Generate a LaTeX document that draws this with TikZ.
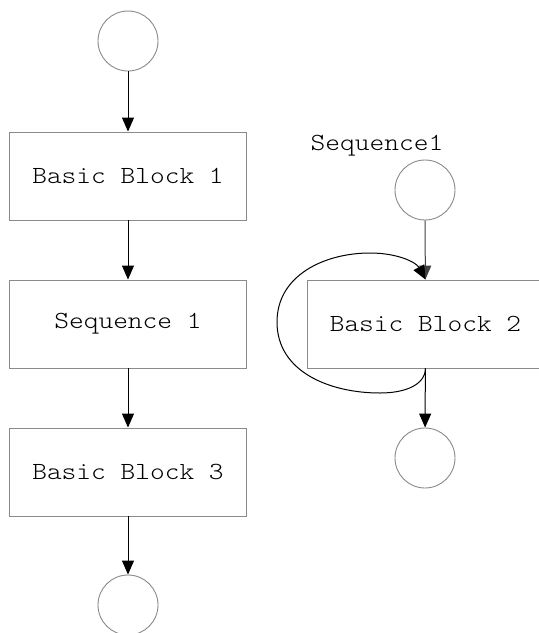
\documentclass[tikz,border=0pt]{standalone}
\usepackage{fontspec}
\setmonofont[FakeStretch=1.14]{Latin Modern Mono Light}
\usetikzlibrary{arrows.meta}
\definecolor{edgegray}{HTML}{8A8A8A}
\tikzset{
  blockbox/.style={draw=edgegray, line width=0.9pt, minimum width=237pt, minimum height=88pt,
    inner sep=0pt, font=\ttfamily\fontsize{24.6}{28}\selectfont},
  terminal/.style={circle, draw=edgegray, line width=0.9pt, minimum size=60pt, inner sep=0pt},
  flow/.style={line width=1pt, -{Triangle[length=14pt,width=12pt]}},
  caption/.style={font=\ttfamily\fontsize{24.6}{28}\selectfont, inner sep=0pt}
}
\begin{document}
\begin{tikzpicture}[x=1pt,y=-1pt]
\clip (0,0) rectangle (539,633);
\fill[white] (0,0) rectangle (539,633);

% main chain
\node[terminal] (start) at (128,41) {};
\node[blockbox] (bb1) at (128,176) {Basic Block 1};
\node[blockbox] (seq) at (128,324) {Sequence 1};
\node[blockbox] (bb3) at (128,472) {Basic Block 3};
\node[terminal] (stop) at (128,605) {};

\draw[flow] (start) -- (bb1);
\draw[flow] (bb1) -- (seq);
\draw[flow] (seq) -- (bb3);
\draw[flow] (bb3) -- (stop);

% expansion of Sequence 1
\node[caption] (title) at (377,146) {Sequence1};
\node[terminal] (sin) at (425,190) {};
\node[blockbox] (bb2) at (425.5,324) {Basic Block 2};
\node[terminal] (sout) at (425,458) {};

\draw[flow, draw=black!75] (sin) -- (bb2);
\draw[flow] (bb2) -- (sout);
\draw[flow] (bb2.south) .. controls (425,385) and (405,393) .. (380,393)
  .. controls (330,393) and (277,372) .. (277,322)
  .. controls (277,275) and (325,253) .. (370,253)
  .. controls (397,253) and (416,262) .. (bb2.north);
\end{tikzpicture}
\end{document}
